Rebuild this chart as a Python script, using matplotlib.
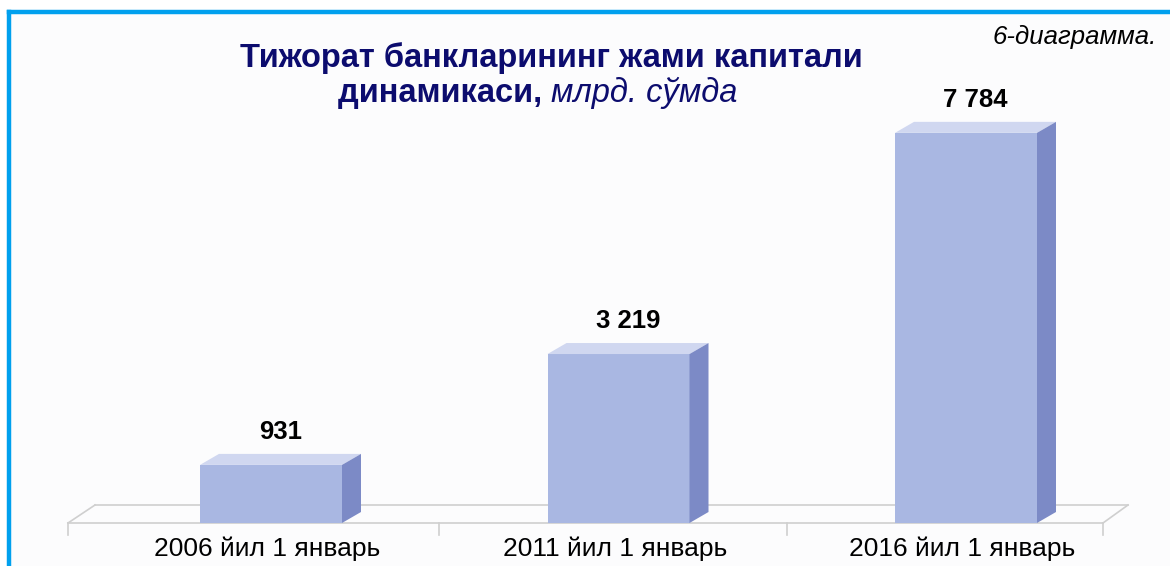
import matplotlib.pyplot as plt
from matplotlib.patches import Polygon, Rectangle
from matplotlib.lines import Line2D

plt.rcParams['font.family'] = ['Liberation Sans', 'DejaVu Sans']

categories = ["2006 йил 1 январь", "2011 йил 1 январь", "2016 йил 1 январь"]
values = [931, 3219, 7784]
value_labels = ["931", "3 219", "7 784"]

W, H = 1170, 566
fig = plt.figure(figsize=(W / 100, H / 100), dpi=100)
fig.patch.set_facecolor('white')

# pixel helpers: category 0 centre at px 271, step 347.5; value 0 at px 510 from top
step = 347.5
ppu = 0.04845  # pixels per value unit
zero_px = 510
x_lo = -271 / step
x_hi = (W - 271) / step
y_lo = -(H - zero_px) / ppu
y_hi = y_lo + H / ppu

# inner panel background + blue frame
fig.patches.append(Rectangle((9 / W, 0), 1, 1 - 12 / H, transform=fig.transFigure,
                             facecolor='#fcfcfd', edgecolor='none', zorder=-5))
fig.lines.append(Line2D([9 / W, 9 / W], [0, 1 - 12 / H], transform=fig.transFigure,
                        color='#00a0ee', lw=3.2, zorder=-4))
fig.lines.append(Line2D([9 / W, 1], [1 - 12 / H, 1 - 12 / H], transform=fig.transFigure,
                        color='#00a0ee', lw=3.2, zorder=-4))

ax = fig.add_axes([0, 0, 1, 1])
ax.set_xlim(x_lo, x_hi)
ax.set_ylim(y_lo, y_hi)
ax.axis('off')
ax.patch.set_alpha(0)

px = 1 / step
pv = 1 / ppu
base = -13 * pv  # front edge of the floor, below the value-zero plane

# floor
fl, fr = (68 - 271) * px, (1103 - 271) * px
bdx_l, bdx_r, bdy = 27 * px, 25 * px, 18 * pv
floor_c = '#cfcfcf'
ax.plot([fl, fr], [base, base], color=floor_c, lw=1.2, zorder=1)
ax.plot([fl + bdx_l, fr + bdx_r], [base + bdy, base + bdy], color=floor_c, lw=1.2, zorder=1)
ax.plot([fl, fl + bdx_l], [base, base + bdy], color=floor_c, lw=1.2, zorder=1)
ax.plot([fr, fr + bdx_r], [base, base + bdy], color=floor_c, lw=1.2, zorder=1)
for t in [fl, (439 - 271) * px, (787 - 271) * px, fr]:
    ax.plot([t, t], [base, base - 12 * pv], color=floor_c, lw=1.2, zorder=1)

# 3D bars
w = 142 * px
dx, dy = 19 * px, 11 * pv
for i, v in enumerate(values):
    x0, x1 = i - w / 2, i + w / 2
    ax.add_patch(Rectangle((x0, base), w, v - base, facecolor='#a9b7e2',
                           edgecolor='none', zorder=3))
    ax.add_patch(Polygon([(x0, v), (x1, v), (x1 + dx, v + dy), (x0 + dx, v + dy)],
                         facecolor='#d0d7f0', edgecolor='none', zorder=3))
    ax.add_patch(Polygon([(x1, base), (x1 + dx, base + dy), (x1 + dx, v + dy), (x1, v)],
                         facecolor='#7c8ac6', edgecolor='none', zorder=3))
    ax.annotate(value_labels[i], (i + dx / 2, v + dy), xytext=(0, 16),
                textcoords='offset points', ha='center', va='center',
                fontsize=18.5, fontweight='bold', color='black')
    ax.text(i - 0.01, base - 26 * pv, categories[i], ha='center', va='center',
            fontsize=19, color='black')

# titles
navy = '#0c0c6e'
fig.text(551 / W, 1 - 58 / H, "Тижорат банкларининг жами капитали",
         ha='center', va='center', fontsize=23.5, fontweight='bold', color=navy)
fig.text(551 / W, 1 - 93 / H, "динамикаси, ", ha='right', va='center',
         fontsize=23.5, fontweight='bold', color=navy)
fig.text(551 / W, 1 - 93 / H, "млрд. сўмда", ha='left', va='center',
         fontsize=23.5, style='italic', color=navy)
fig.text(1157 / W, 1 - 37 / H, "6-диаграмма.", ha='right', va='center',
         fontsize=18.5, style='italic', color='black')

fig.savefig('out.png', dpi=100, facecolor=fig.get_facecolor())
